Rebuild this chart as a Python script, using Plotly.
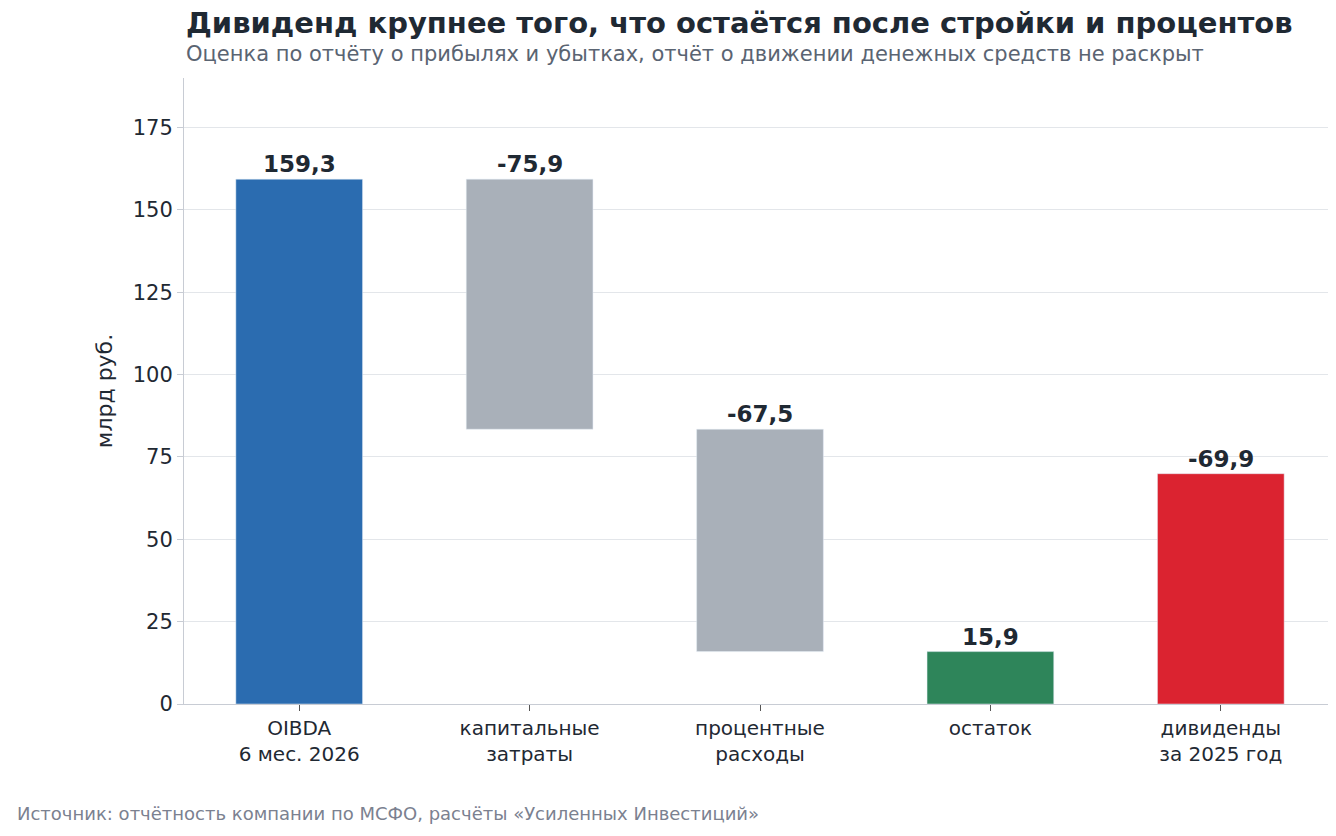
import plotly.graph_objects as go

categories = ["OIBDA<br>6 мес. 2026", "капитальные<br>затраты", "процентные<br>расходы", "остаток", "дивиденды<br>за 2025 год"]
values = [159.3, -75.9, -67.5, 15.9, -69.9]
tops = [159.3, 159.3, 83.4, 15.9, 69.9]
bases = [0, 83.4, 15.9, 0, 0]
colors = ["#2b6cb0", "#a9b0b9", "#a9b0b9", "#2e855a", "#db2330"]

heights = [t - b for t, b in zip(tops, bases)]
fig = go.Figure(go.Bar(x=categories, y=heights, base=bases, marker_color=colors,
                       width=0.55, hoverinfo="skip"))
for c, v, t in zip(categories, values, tops):
    fig.add_annotation(x=c, y=t, text="<b>" + f"{v:.1f}".replace(".", ",") + "</b>",
                       showarrow=False, yanchor="bottom", yshift=0,
                       font=dict(size=23, color="#1f2933"))

fig.update_layout(
    width=1336, height=836, plot_bgcolor="white", paper_bgcolor="white",
    font=dict(family="DejaVu Sans", color="#1f2933"),
    margin=dict(l=176, r=8, t=70, b=140, autoexpand=False),
    showlegend=False,
    bargap=0.45,
)
fig.update_yaxes(range=[0, 190], tick0=0, dtick=25, gridcolor="#e3e6ea",
                 showline=True, linecolor="#c8ccd4", ticks="outside", ticklen=6,
                 tickcolor="#c8ccd4", tickfont=dict(size=21), zeroline=False, automargin=False,
                 title=dict(text="млрд руб.", font=dict(size=22), standoff=14))
fig.update_xaxes(showline=True, linecolor="#c8ccd4", ticks="outside", ticklen=6,
                 tickcolor="#555", tickfont=dict(size=20), automargin=False)
fig.add_annotation(xref="paper", yref="paper", x=0, y=1, yshift=36, xanchor="left", yanchor="bottom",
                   text="<b>Дивиденд крупнее того, что остаётся после стройки и процентов</b>",
                   showarrow=False, font=dict(size=29, color="#1f2933"))
fig.add_annotation(xref="paper", yref="paper", x=0, y=1, yshift=10, xanchor="left", yanchor="bottom",
                   text="Оценка по отчёту о прибылях и убытках, отчёт о движении денежных средств не раскрыт",
                   showarrow=False, font=dict(size=21, color="#5a6472"))
fig.add_annotation(xref="paper", yref="paper", x=-169/1152, y=0, yshift=-122, xanchor="left", yanchor="bottom",
                   text="Источник: отчётность компании по МСФО, расчёты «Усиленных Инвестиций»",
                   showarrow=False, font=dict(size=18, color="#7b8190"))
fig.write_html("out.html")
